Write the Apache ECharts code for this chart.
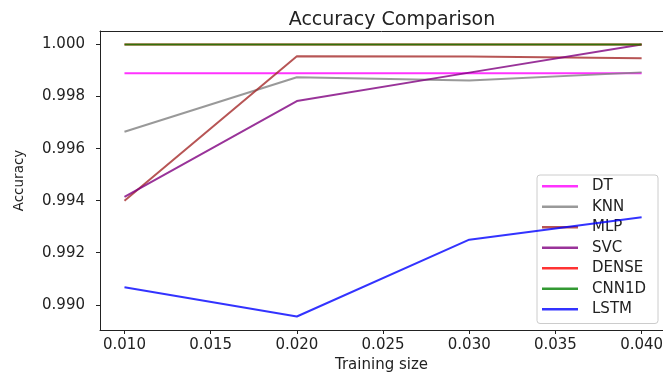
<!DOCTYPE html>
<html>
<head>
<meta charset="utf-8">
<script src="https://cdn.jsdelivr.net/npm/echarts@6/dist/echarts.min.js"></script>
<style>
html,body{margin:0;padding:0;background:#fff;}
#chart{width:663px;height:374px;}
</style>
</head>
<body>
<div id="chart"></div>
<script>
// ---- data ----
const trainingSizes = [0.010, 0.020, 0.030, 0.040];
const seriesNames = ['DT', 'KNN', 'MLP', 'SVC', 'DENSE', 'CNN1D', 'LSTM'];
const dtValues    = [0.99890, 0.99890, 0.99890, 0.99890];
const knnValues   = [0.99665, 0.99874, 0.99862, 0.99893];
const mlpValues   = [0.99400, 0.99955, 0.99954, 0.99947];
const svcValues   = [0.99415, 0.99783, 0.99892, 1.00000];
const denseValues = [1.00000, 1.00000, 1.00000, 1.00000];
const cnn1dValues = [1.00000, 1.00000, 1.00000, 1.00000];
const lstmValues  = [0.99067, 0.98955, 0.99250, 0.99336];
const xTicks = [0.010, 0.015, 0.020, 0.025, 0.030, 0.035, 0.040];
const yTicks = [0.990, 0.992, 0.994, 0.996, 0.998, 1.000];

const allValues = [dtValues, knnValues, mlpValues, svcValues, denseValues, cnn1dValues, lstmValues];
const colors = ['rgba(255,0,255,0.8)', 'rgba(128,128,128,0.8)', 'rgba(165,42,42,0.8)',
                'rgba(128,0,128,0.8)', 'rgba(255,0,0,0.8)', 'rgba(0,128,0,0.8)', 'rgba(0,0,255,0.8)'];

const axisColor = '#222';
const font = 'DejaVu Sans';

const chart = echarts.init(document.getElementById('chart'), null, {renderer: 'canvas'});

const series = seriesNames.map((name, i) => ({
  name: name,
  type: 'line',
  data: trainingSizes.map((x, j) => [x, allValues[i][j]]),
  symbol: 'none',
  color: colors[i],
  lineStyle: {width: 2, color: colors[i]},
  itemStyle: {color: colors[i]},
  emphasis: {disabled: true},
  animation: false,
  z: 2 + i
}));

chart.setOption({
  animation: false,
  backgroundColor: '#fff',
  title: {
    text: 'Accuracy Comparison',
    left: 387,
    top: 6,
    textAlign: 'center',
    textStyle: {fontFamily: font, fontSize: 19, fontWeight: 'normal', color: axisColor}
  },
  grid: {left: 100, right: 0, top: 31, bottom: 44, containLabel: false, outerBoundsMode: 'none'},
  legend: {
    orient: 'vertical',
    left: 537,
    top: 175,
    icon: 'rect',
    itemWidth: 36,
    itemHeight: 2.5,
    itemGap: 0,
    padding: [1, 12, 4, 5],
    backgroundColor: 'rgba(255,255,255,0.8)',
    borderColor: '#cccccc',
    borderWidth: 1,
    borderRadius: 3,
    selectedMode: false,
    textStyle: {fontFamily: font, fontSize: 15, color: axisColor, lineHeight: 20.5, padding: [0, 0, 0, 9]},
    data: seriesNames
  },
  xAxis: [{
    type: 'value',
    min: 0.00858,
    max: 0.04124,
    name: 'Training size',
    nameLocation: 'middle',
    nameGap: 28,
    nameTextStyle: {fontFamily: font, fontSize: 15, color: axisColor},
    axisLine: {show: true, onZero: false, lineStyle: {color: axisColor, width: 1}},
    axisTick: {show: true, inside: false, length: 4, customValues: xTicks, lineStyle: {color: axisColor}},
    axisLabel: {show: true, margin: 8, customValues: xTicks, fontFamily: font, fontSize: 15, color: axisColor,
                formatter: v => v.toFixed(3)},
    splitLine: {show: false}
  }, {
    type: 'value',
    position: 'top',
    min: 0.00858,
    max: 0.04124,
    axisLine: {show: true, onZero: false, lineStyle: {color: axisColor, width: 1}},
    axisTick: {show: false},
    axisLabel: {show: false},
    splitLine: {show: false}
  }],
  yAxis: {
    type: 'value',
    min: 0.98903,
    max: 1.00052,
    name: 'Accuracy',
    nameLocation: 'middle',
    nameRotate: 90,
    nameGap: 74,
    nameTextStyle: {fontFamily: font, fontSize: 13.5, color: axisColor},
    axisLine: {show: true, onZero: false, lineStyle: {color: axisColor, width: 1}},
    axisTick: {show: true, inside: false, length: 4, customValues: yTicks, lineStyle: {color: axisColor}},
    axisLabel: {show: true, margin: 15, customValues: yTicks, fontFamily: font, fontSize: 15, color: axisColor,
                formatter: v => v.toFixed(3)},
    splitLine: {show: false}
  },
  series: series
});
</script>
</body>
</html>
